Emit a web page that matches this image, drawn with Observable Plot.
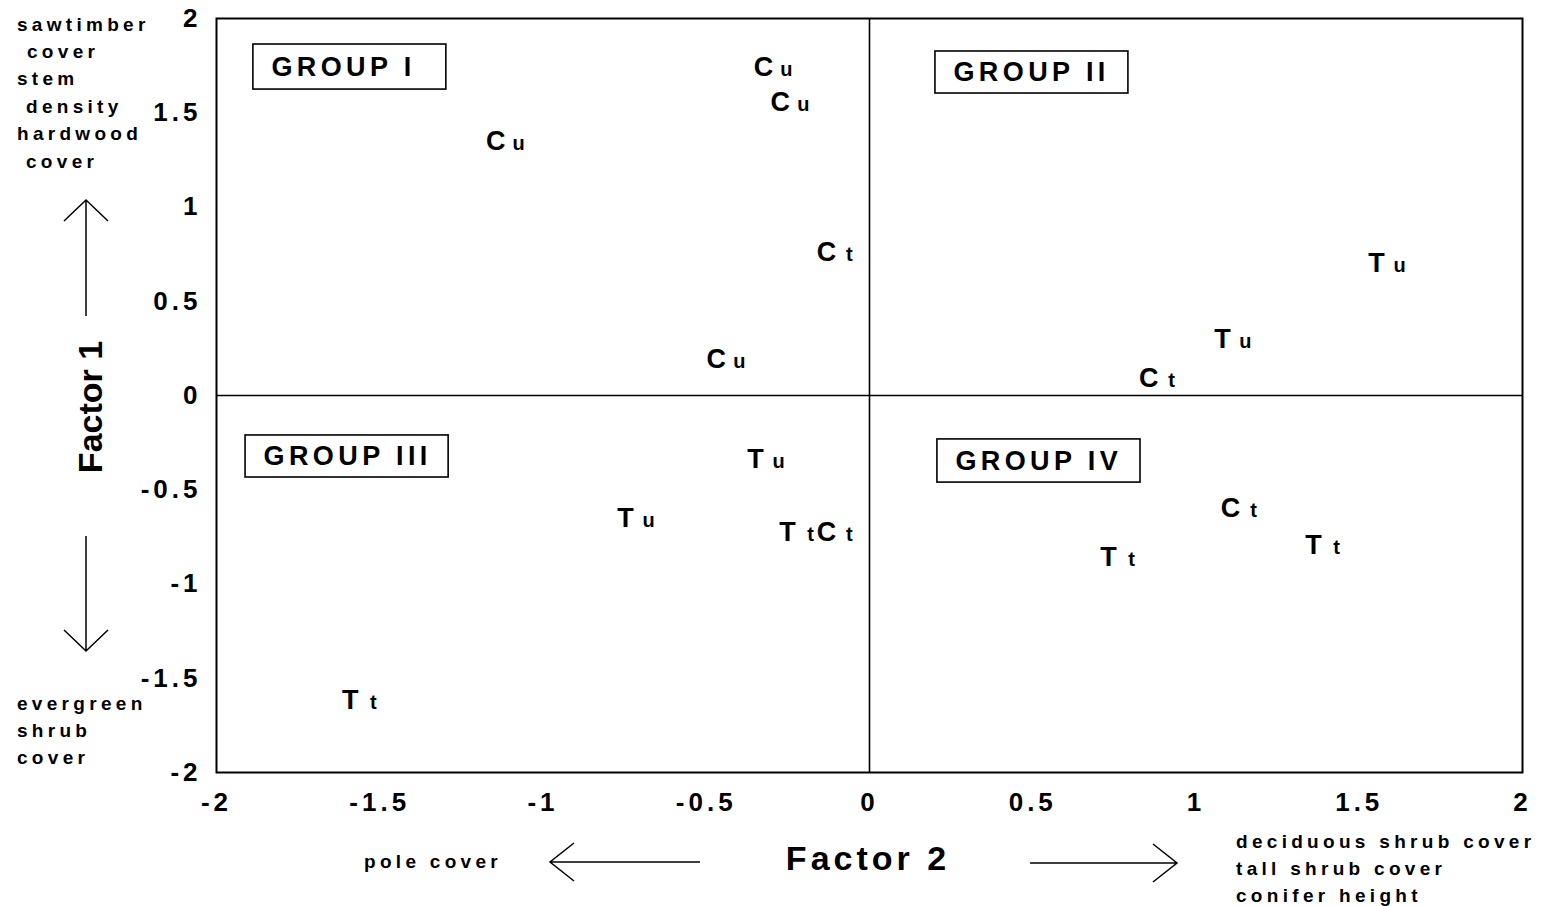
<!DOCTYPE html>
<html>
<head>
<meta charset="utf-8">
<script src="https://cdn.jsdelivr.net/npm/d3@7"></script>
<script src="https://cdn.jsdelivr.net/npm/@observablehq/plot@0.6"></script>
<style>
  html, body { margin: 0; padding: 0; background: #fff; }
  #chart svg { display: block; }
  g[aria-description="group-labels"] text { letter-spacing: 4.4px; }
  g[aria-label="y-axis tick label"] text { font-size: 26px; font-weight: bold; letter-spacing: 4px; }
  g[aria-label="x-axis tick label"] text { font-size: 26px; font-weight: bold; letter-spacing: 4px; }
</style>
</head>
<body>
<div id="chart"></div>
<script>
// Site scores on the first two factors.
// Capital letter = stand type (C, T); small letter = status code.
const ptSpecies = ["C", "C", "C", "C", "C", "T", "T", "C", "T", "T", "T", "C", "T", "C", "T", "T"];
const ptStatus  = ["u", "u", "u", "t", "u", "u", "u", "t", "u", "u", "t", "t", "t", "t", "t", "t"];
const ptFactor2 = [-0.325, -0.273, -1.145, -0.132, -0.469, 1.553, 1.081, 0.855, -0.349, -0.747, -0.251, -0.132, -1.590, 1.106, 0.732, 1.360];
const ptFactor1 = [1.740, 1.554, 1.347, 0.759, 0.191, 0.700, 0.297, 0.090, -0.340, -0.653, -0.727, -0.727, -1.618, -0.599, -0.859, -0.796];

// Quadrant group labels and the extent of their boxes (factor units).
const groupNames = ["GROUP I", "GROUP II", "GROUP III", "GROUP IV"];
const groupX1 = [-1.887, 0.202, -1.911, 0.208];
const groupX2 = [-1.296, 0.793, -1.289, 0.830];
const groupY1 = [1.623, 1.602, -0.435, -0.462];
const groupY2 = [1.862, 1.825, -0.212, -0.233];

// Axis ticks.
const xTicks = [-2, -1.5, -1, -0.5, 0, 0.5, 1, 1.5, 2];
const yTicks = [-2, -1.5, -1, -0.5, 0, 0.5, 1, 1.5, 2];

// Variables loading on each end of the factors.
const factor1High = ["sawtimber", "cover", "stem", "density", "hardwood", "cover"];
const factor1Low = ["evergreen", "shrub", "cover"];
const factor2Low = ["pole cover"];
const factor2High = ["deciduous shrub cover", "tall shrub cover", "conifer height"];

const points = ptSpecies.map((s, i) => ({species: s, status: ptStatus[i], f2: ptFactor2[i], f1: ptFactor1[i]}));
const groups = groupNames.map((name, i) => ({name, x1: groupX1[i], x2: groupX2[i], y1: groupY1[i], y2: groupY2[i]}));

const FONT = "'Liberation Sans', Arial, Helvetica, sans-serif";

const chart = Plot.plot({
  width: 1551,
  height: 906,
  marginLeft: 216,
  marginRight: 29,
  marginTop: 18,
  marginBottom: 134,
  style: {fontFamily: FONT, background: "#fff", color: "#000", overflow: "visible"},
  x: {domain: [-2, 2]},
  y: {domain: [-2, 2]},
  marks: [
    Plot.ruleX([0], {stroke: "#000", strokeWidth: 1.6}),
    Plot.ruleY([0], {stroke: "#000", strokeWidth: 1.6}),
    Plot.frame({stroke: "#000", strokeWidth: 2}),
    Plot.rect(groups, {x1: "x1", x2: "x2", y1: "y1", y2: "y2", fill: "#fff", stroke: "#000", strokeWidth: 1.6}),
    Plot.text(groups, {
      x: "x1", y: d => (d.y1 + d.y2) / 2, text: "name",
      textAnchor: "start", dx: 18, fontSize: 27, fontWeight: "bold",
      ariaDescription: "group-labels"
    }),
    Plot.text(points, {x: "f2", y: "f1", text: "species", fontSize: 27, fontWeight: "bold"}),
    Plot.text(points, {x: "f2", y: "f1", text: "status", dx: 23, dy: 2, fontSize: 20, fontWeight: "bold"}),
    Plot.axisX({ticks: xTicks, tickSize: 0, tickPadding: 20, tickFormat: d => String(d), label: null}),
    Plot.axisY({ticks: yTicks, tickSize: 0, tickPadding: 15, tickFormat: d => String(d), label: null})
  ]
});

document.getElementById("chart").appendChild(chart);

// Axis titles, direction arrows and the variables at each end of the axes.
const svg = d3.select(chart);
const ann = svg.append("g")
  .attr("font-family", FONT)
  .attr("fill", "#000");

ann.append("text")
  .attr("x", 868).attr("y", 858)
  .attr("text-anchor", "middle").attr("dominant-baseline", "central")
  .attr("font-size", 34).attr("font-weight", "bold").attr("letter-spacing", "4px")
  .text("Factor 2");

ann.append("text")
  .attr("transform", "translate(90,407) rotate(-90)")
  .attr("text-anchor", "middle").attr("dominant-baseline", "central")
  .attr("font-size", 34).attr("font-weight", "bold")
  .text("Factor 1");

const arrows = ann.append("g").attr("fill", "none").attr("stroke", "#000").attr("stroke-width", 1.5);
// up arrow (Factor 1 high)
arrows.append("path").attr("d", "M86,316 L86,200 M64,221 L86,200 L108,221");
// down arrow (Factor 1 low)
arrows.append("path").attr("d", "M86,536 L86,651 M64,630 L86,651 L108,630");
// left arrow (Factor 2 low)
arrows.append("path").attr("d", "M700,862 L550,862 M574,843 L550,862 L574,881");
// right arrow (Factor 2 high)
arrows.append("path").attr("d", "M1030,863 L1177,863 M1153,844 L1177,863 L1153,882");

const small = ann.append("g")
  .attr("font-size", 19).attr("font-weight", "bold").attr("letter-spacing", "4.3px")
  .attr("text-anchor", "start")
  .attr("dominant-baseline", "central");

const highIndent = [0, 10, 0, 9, 0, 9];
factor1High.forEach((t, i) => {
  small.append("text").attr("x", 17 + highIndent[i]).attr("y", 24 + i * 27.4).text(t);
});
factor1Low.forEach((t, i) => {
  small.append("text").attr("x", 17).attr("y", 703 + i * 27.2).text(t);
});
factor2Low.forEach((t, i) => {
  small.append("text").attr("x", 364).attr("y", 861 + i * 27).text(t);
});
factor2High.forEach((t, i) => {
  small.append("text").attr("x", 1236).attr("y", 841 + i * 27.2).text(t);
});
</script>
</body>
</html>
